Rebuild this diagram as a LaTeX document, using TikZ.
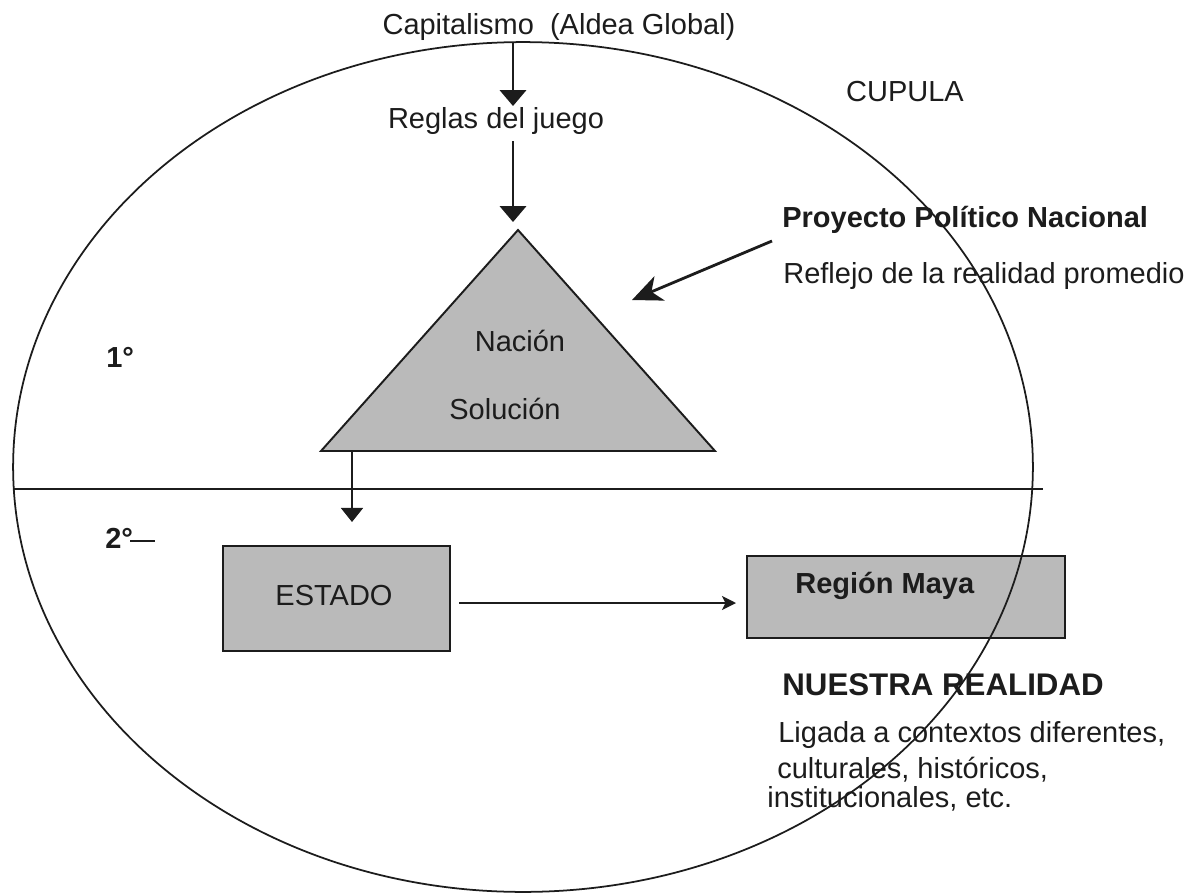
\documentclass[tikz,border=0pt]{standalone}
\usepackage{fontspec}
\setmainfont{Liberation Sans}
\usetikzlibrary{arrows.meta,shapes.geometric}
\definecolor{boxgray}{RGB}{186,186,186}
\definecolor{ink}{RGB}{28,28,28}
\begin{document}
\begin{tikzpicture}[x=0.02cm,y=-0.02cm,
  txt/.style={inner sep=0pt, text=ink, font=\fontsize{16.5}{19}\selectfont},
  btxt/.style={inner sep=0pt, text=ink, font=\fontsize{16.5}{19}\selectfont\bfseries},
  bigtxt/.style={inner sep=0pt, text=ink, font=\fontsize{17.8}{21}\selectfont\bfseries},
  stroke/.style={draw=ink, line width=1.1pt},
  downarrow/.style={stroke, -{Triangle[length=9pt,width=15pt]}},
  smalldown/.style={stroke, -{Triangle[length=8pt,width=12.5pt]}},
  slantarrow/.style={stroke, line width=1.6pt, -{Stealth[length=17pt,width=15pt,inset=5pt]}},
  thinarrow/.style={stroke, -{Stealth[length=8pt,width=8pt,inset=2pt]}},
  graybox/.style={stroke, fill=boxgray, inner sep=0pt}]
\useasboundingbox (0,0) rectangle (1204,896);
\coordinate (divL) at (13,489);
\coordinate (divR) at (1043,489);
\draw[stroke] (divL) -- (divR);
% triangle
\coordinate (apex) at (518,230);
\coordinate (bl) at (321,451);
\coordinate (br) at (715,451);
\draw[stroke, fill=boxgray, line join=miter] (apex) -- (bl) -- (br) -- cycle;
% texts
\node[txt, anchor=base] (capital) at (559,34) {Capitalismo\ \ (Aldea Global)};
\node[txt, anchor=base] (reglas) at (496,128) {Reglas del juego};
\node[txt, anchor=base] (cupula) at (905,101) {CUPULA};
\node[btxt, anchor=base west] (proyecto) at (782,227) {Proyecto Político Nacional};
\node[txt, anchor=base west] (reflejo) at (783,283) {Reflejo de la realidad promedio};
\node[txt, anchor=base] (nacion) at (520,351) {Nación};
\node[txt, anchor=base] (solucion) at (505,419) {Solución};
\node[btxt, anchor=base west] (primero) at (106,367) {1°};
\node[anchor=base west, inner sep=0pt, text=ink, font=\fontsize{16.5}{19}\selectfont] (segundo) at (105,548) {\textbf{2°}\kern-1.5pt\raisebox{3.5pt}{\rule{14pt}{0.9pt}}};
% boxes
\node[graybox, minimum width=4.54cm, minimum height=2.1cm] (estadobox) at (336.5,598.5) {};
\node[txt, anchor=base] (estado) at (334,605) {ESTADO};
\node[graybox, minimum width=6.36cm, minimum height=1.64cm] (regionbox) at (906,597) {};
\node[btxt, anchor=base west] (region) at (795,593) {Región Maya};
\node[bigtxt, anchor=base west] (nuestra) at (782,695) {NUESTRA REALIDAD};
\node[txt, anchor=base west] (lig1) at (778,742) {Ligada a contextos diferentes,};
\node[txt, anchor=base west] (lig2) at (777,778) {culturales, históricos,};
\node[txt, anchor=base west] (lig3) at (767,807) {institucionales, etc.};
% dome (drawn over the box and texts, as in the reference)
\node[draw=ink, line width=1pt, ellipse, inner sep=0pt,
      minimum width=20.4cm, minimum height=17cm] (cupulaellipse) at (523,467) {};
% connectors
\coordinate (a1s) at (513,43);
\coordinate (a1e) at (513,106);
\draw[downarrow] (a1s) -- (a1e);
\coordinate (a2s) at (513,141);
\coordinate (a2e) at (513,222);
\draw[downarrow] (a2s) -- (a2e);
\coordinate (a3s) at (772,241);
\coordinate (a3e) at (632,300);
\draw[slantarrow] (a3s) -- (a3e);
\coordinate (a4s) at (352,451);
\coordinate (a4e) at (352,522);
\draw[smalldown] (a4s) -- (a4e);
\coordinate (a5s) at (459,603);
\coordinate (a5e) at (736,603);
\draw[thinarrow] (a5s) -- (a5e);
\end{tikzpicture}
\end{document}
